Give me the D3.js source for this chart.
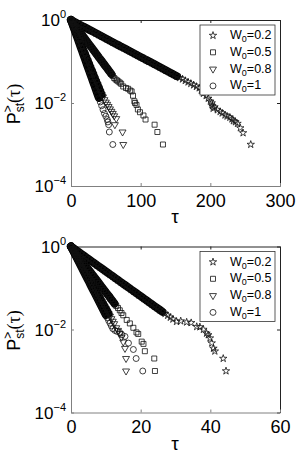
<!DOCTYPE html>
<html>
<head>
<meta charset="utf-8">
<script src="https://cdn.jsdelivr.net/npm/d3@7"></script>
<style>
body { margin: 0; background: #fff; }
svg { display: block; }
text { font-family: "Liberation Sans", Arial, sans-serif; }
</style>
</head>
<body>
<div id="chart"></div>
<script>
var width = 301,
    height = 460;

var legendLabels = ["0.2", "0.5", "0.8", "1"];
var xTicksTop = [0, 100, 200, 300];
var xTicksBot = [0, 20, 40, 60];
var yTicks = [1, 1e-2, 1e-4];
var yTickExp = ["0", "\u22122", "\u22124"];

// top panel, [tau, P]; "Band" = the dense part where the markers pile up
var top02Band = [[0,1],[4,0.921],[8,0.849],[12,0.782],[16,0.72],[20,0.664],[24,0.611],[28,0.563],[32,0.519],[36,0.478],[40,0.44],[44,0.406],[48,0.374],[52,0.344],[56,0.317],[60,0.292],[64,0.269],[68,0.248],[72,0.228],[76,0.211],[80,0.194],[84,0.179],[88,0.165],[92,0.152],[96,0.14],[100,0.129],[104,0.119],[108,0.109],[112,0.101],[116,0.093],[120,0.0854],[124,0.0787],[128,0.0725],[132,0.0668],[136,0.0615],[140,0.0567],[144,0.0522],[148,0.0481],[152,0.0443]];
var top02Tail = [[156,0.0408],[160,0.0376],[164,0.0346],[168,0.0319],[172,0.0294],[176,0.0271],[180,0.0249],[184,0.023],[187,0.02],[190,0.017],[194,0.015],[197,0.0129],[200,0.011],[202,0.01],[203,0.0085],[204,0.0074],[206,0.008],[210,0.0068],[214,0.0062],[217,0.0057],[221,0.0051],[224,0.0048],[228,0.0045],[231,0.0041],[233,0.0037],[236,0.0035],[239,0.0032],[243,0.0025],[247,0.0019],[258,0.001]];
var top05Band = [[0,1],[2,0.902],[4,0.813],[6,0.733],[8,0.661],[10,0.596],[12,0.537],[14,0.484],[16,0.437],[18,0.394],[20,0.355],[22,0.32],[24,0.289],[26,0.26],[28,0.235],[30,0.212],[32,0.191],[34,0.172],[36,0.155],[38,0.14],[40,0.126],[42,0.114],[44,0.103],[46,0.0926],[48,0.0835],[50,0.0753],[52,0.0679],[54,0.0612],[56,0.0552],[58,0.0498]];
var top05Tail = [[60,0.0449],[62,0.04],[64,0.037],[66,0.035],[68,0.033],[70,0.031],[72,0.029],[75,0.025],[79,0.023],[82,0.022],[85,0.02],[87,0.019],[89,0.015],[91,0.011],[92,0.01],[94,0.009],[96,0.007],[99,0.006],[104,0.005],[107,0.004],[120,0.003],[124,0.002],[132,0.001]];
var top08Band = [[0,1],[2,0.828],[4,0.686],[6,0.567],[8,0.47],[10,0.389],[12,0.322],[14,0.267],[16,0.221],[18,0.183],[20,0.151],[22,0.125],[24,0.104],[26,0.086],[28,0.071],[30,0.059],[32,0.049],[34,0.04],[36,0.033],[38,0.028],[40,0.023],[42,0.019],[44,0.016]];
var top08Tail = [[46,0.014],[48,0.012],[50,0.0105],[52,0.0093],[54,0.0082],[56,0.0072],[58,0.0063],[60,0.0056],[62,0.0049],[65,0.0042],[63,0.003],[74,0.002],[75,0.001]];
var top10Band = [[0,1],[2,0.805],[4,0.649],[6,0.522],[8,0.421],[10,0.339],[12,0.273],[14,0.22],[16,0.177],[18,0.143],[20,0.115],[22,0.0925],[24,0.0745],[26,0.06],[28,0.0483],[30,0.0389],[32,0.0314],[34,0.0253],[36,0.0203],[38,0.0164],[40,0.0132]];
var top10Tail = [[42,0.0106],[44,0.0086],[46,0.0069],[48,0.0056],[50,0.0048],[52,0.004],[53,0.0035],[54,0.003],[55,0.002],[60,0.001]];

// bottom panel, [tau, P]
var bot02Band = [[0,1],[0.75,0.902],[1.5,0.813],[2.25,0.733],[3,0.661],[3.75,0.596],[4.5,0.537],[5.25,0.484],[6,0.437],[6.75,0.394],[7.5,0.355],[8.25,0.32],[9,0.289],[9.75,0.26],[10.5,0.235],[11.25,0.212],[12,0.191],[12.75,0.172],[13.5,0.155],[14.25,0.14],[15,0.126],[15.75,0.114],[16.5,0.103],[17.25,0.0926],[18,0.0835],[18.75,0.0753],[19.5,0.0679],[20.25,0.0612],[21,0.0552],[21.75,0.0498],[22.5,0.0449],[23.25,0.0405],[24,0.0365],[24.75,0.0329],[25.5,0.0297],[26.25,0.0268]];
var bot02Tail = [[27,0.0241],[27.75,0.0218],[28.5,0.0196],[29.25,0.0177],[30.3,0.0155],[31.5,0.016],[33.2,0.015],[34.5,0.0145],[36.1,0.0117],[37,0.0115],[38,0.01],[38.9,0.0081],[39.4,0.0074],[39.9,0.0062],[40.4,0.0047],[40.9,0.0035],[41.3,0.003],[43.7,0.002],[44.5,0.001]];
var bot05Band = [[0,1],[0.5,0.881],[1,0.776],[1.5,0.684],[2,0.603],[2.5,0.531],[3,0.468],[3.5,0.412],[4,0.363],[4.5,0.32],[5,0.282],[5.5,0.248],[6,0.219],[6.5,0.193],[7,0.17],[7.5,0.15],[8,0.132],[8.5,0.116],[9,0.102],[9.5,0.09],[10,0.079],[10.5,0.07],[11,0.062],[11.5,0.054],[12,0.048],[12.5,0.042]];
var bot05Tail = [[13,0.037],[13.5,0.033],[14,0.029],[14.5,0.025],[15,0.022],[16,0.017],[16.9,0.014],[17.9,0.011],[18.8,0.0085],[19.3,0.0078],[20.3,0.0051],[20.8,0.0045],[21.2,0.003],[23.9,0.002],[24.1,0.001]];
var bot08Band = [[0,1],[0.4,0.871],[0.8,0.759],[1.2,0.661],[1.6,0.575],[2,0.501],[2.4,0.437],[2.8,0.38],[3.2,0.331],[3.6,0.288],[4,0.251],[4.4,0.219],[4.8,0.191],[5.2,0.166],[5.6,0.145],[6,0.126],[6.4,0.11],[6.8,0.0955],[7.2,0.0832],[7.6,0.0724],[8,0.0631],[8.4,0.055],[8.8,0.0479],[9.2,0.0417],[9.6,0.0363],[10,0.0316],[10.4,0.0275],[10.8,0.024]];
var bot08Tail = [[11.2,0.0209],[11.6,0.0182],[12,0.0158],[12.4,0.0138],[13,0.011],[13.5,0.0095],[14,0.008],[14.5,0.0065],[15,0.005],[15.5,0.0035],[15.8,0.002],[15.8,0.001]];
var bot10Band = [[0,1],[0.4,0.859],[0.8,0.738],[1.2,0.634],[1.6,0.545],[2,0.468],[2.4,0.402],[2.8,0.345],[3.2,0.297],[3.6,0.255],[4,0.219],[4.4,0.188],[4.8,0.162],[5.2,0.139],[5.6,0.119],[6,0.102],[6.4,0.088],[6.8,0.0756],[7.2,0.0649],[7.6,0.0558],[8,0.0479],[8.4,0.0412],[8.8,0.0354],[9.2,0.0304],[9.6,0.0261],[10,0.0224]];
var bot10Tail = [[10.4,0.0193],[10.8,0.0165],[11.2,0.0142],[11.6,0.0122],[12,0.0105],[12.6,0.0095],[13.2,0.009],[14,0.0085],[14.6,0.0075],[15.5,0.0068],[16.5,0.0047],[17.9,0.0033],[18.7,0.002],[20.6,0.001]];

var svg = d3.select("#chart").append("svg")
    .attr("width", width)
    .attr("height", height);

var symbols = [
    d3.symbol().type(d3.symbolStar).size(17),
    d3.symbol().type(d3.symbolSquare).size(25),
    d3.symbol().type(d3.symbolTriangle).size(21),
    d3.symbol().type(d3.symbolCircle).size(28)
];
var flip = [false, false, true, false];

function drawPanel(top, xmax, xticks, bands, tails) {
    var x = d3.scaleLinear().domain([0, xmax]).range([71, 280]);
    var y = d3.scaleLog().domain([1e-4, 1]).range([top + 166, top]);
    var g = svg.append("g");

    // box: top and right
    g.append("g").attr("transform", "translate(0," + y(1) + ")")
        .call(d3.axisTop(x).tickValues(xticks).tickSizeInner(-3).tickSizeOuter(0).tickFormat(""))
        .call(function (s) { s.selectAll("path,line").attr("stroke", "#222"); });
    g.append("g").attr("transform", "translate(280,0)")
        .call(d3.axisRight(y).tickValues(yTicks).tickSizeInner(-3).tickSizeOuter(0).tickFormat(""))
        .call(function (s) { s.selectAll("path,line").attr("stroke", "#222"); });

    // bottom axis
    var xa = g.append("g").attr("transform", "translate(0," + y(1e-4) + ")")
        .call(d3.axisBottom(x).tickValues(xticks).tickSizeInner(-3).tickSizeOuter(0).tickPadding(8));
    xa.selectAll("path,line").attr("stroke", "#808080");
    xa.selectAll("text").attr("font-size", 18).attr("fill", "#000")
        .attr("font-family", "Liberation Sans, Arial, sans-serif");

    // left axis
    var ya = g.append("g").attr("transform", "translate(71,0)")
        .call(d3.axisLeft(y).tickValues(yTicks).tickSizeInner(-3).tickSizeOuter(0).tickFormat(""));
    ya.selectAll("path,line").attr("stroke", "#808080");
    yTicks.forEach(function (v, i) {
        var t = g.append("text").attr("x", 66).attr("y", y(v) + 6)
            .attr("text-anchor", "end").attr("font-size", 17);
        t.append("tspan").text("10");
        t.append("tspan").attr("dy", -8).attr("font-size", 11).text(yTickExp[i]);
    });

    // dense parts: the markers overlap into a solid band
    var line = d3.line().x(function (d) { return x(d[0]); }).y(function (d) { return y(d[1]); });
    bands.forEach(function (b) {
        g.append("path").attr("d", line(b))
            .attr("fill", "none").attr("stroke", "#000")
            .attr("stroke-width", 8).attr("stroke-linejoin", "round").attr("stroke-linecap", "round");
    });

    // markers
    bands.forEach(function (b, i) {
        var s = b.concat(tails[i]);
        g.append("g").selectAll("path")
            .data(s)
            .enter()
            .append("path")
            .attr("d", symbols[i])
            .attr("transform", function (d) {
                return "translate(" + x(d[0]) + "," + y(d[1]) + ")" + (flip[i] ? " rotate(180)" : "");
            })
            .attr("fill", "none")
            .attr("stroke", "#111")
            .attr("stroke-width", 0.8);
    });

    // legend
    var lg = g.append("g").attr("transform", "translate(200," + (top + 5) + ")");
    lg.append("rect").attr("width", 75).attr("height", 70)
        .attr("fill", "#fff").attr("stroke", "#333").attr("stroke-width", 0.8);
    legendLabels.forEach(function (lab, i) {
        var ry = 10.5 + i * 16.8;
        lg.append("path").attr("d", symbols[i])
            .attr("transform", "translate(13," + ry + ")" + (flip[i] ? " rotate(180)" : ""))
            .attr("fill", "none").attr("stroke", "#111").attr("stroke-width", 0.8);
        var t = lg.append("text").attr("x", 30).attr("y", ry + 3.5).attr("font-size", 12.5);
        t.append("tspan").text("W");
        t.append("tspan").attr("dy", 3).attr("font-size", 9).text("0");
        t.append("tspan").attr("dy", -3).text("=" + lab);
    });

    // axis titles
    g.append("text").attr("x", 175).attr("y", top + 203)
        .attr("text-anchor", "middle").attr("font-size", 19)
        .attr("font-family", "Liberation Serif, serif").text("\u03c4");

    var yl = g.append("text")
        .attr("transform", "translate(20," + (top + 84) + ") rotate(-90)")
        .attr("text-anchor", "middle").attr("font-size", 18);
    yl.append("tspan").text("P");
    yl.append("tspan").attr("dy", -8).attr("font-size", 12).text(">");
    yl.append("tspan").attr("dx", -7).attr("dy", 12).attr("font-size", 12).text("st");
    yl.append("tspan").attr("dy", -4).attr("font-family", "Liberation Serif, serif").text("(\u03c4)");
}

drawPanel(20, 300, xTicksTop, [top02Band, top05Band, top08Band, top10Band], [top02Tail, top05Tail, top08Tail, top10Tail]);
drawPanel(246.5, 60, xTicksBot, [bot02Band, bot05Band, bot08Band, bot10Band], [bot02Tail, bot05Tail, bot08Tail, bot10Tail]);
</script>
</body>
</html>
